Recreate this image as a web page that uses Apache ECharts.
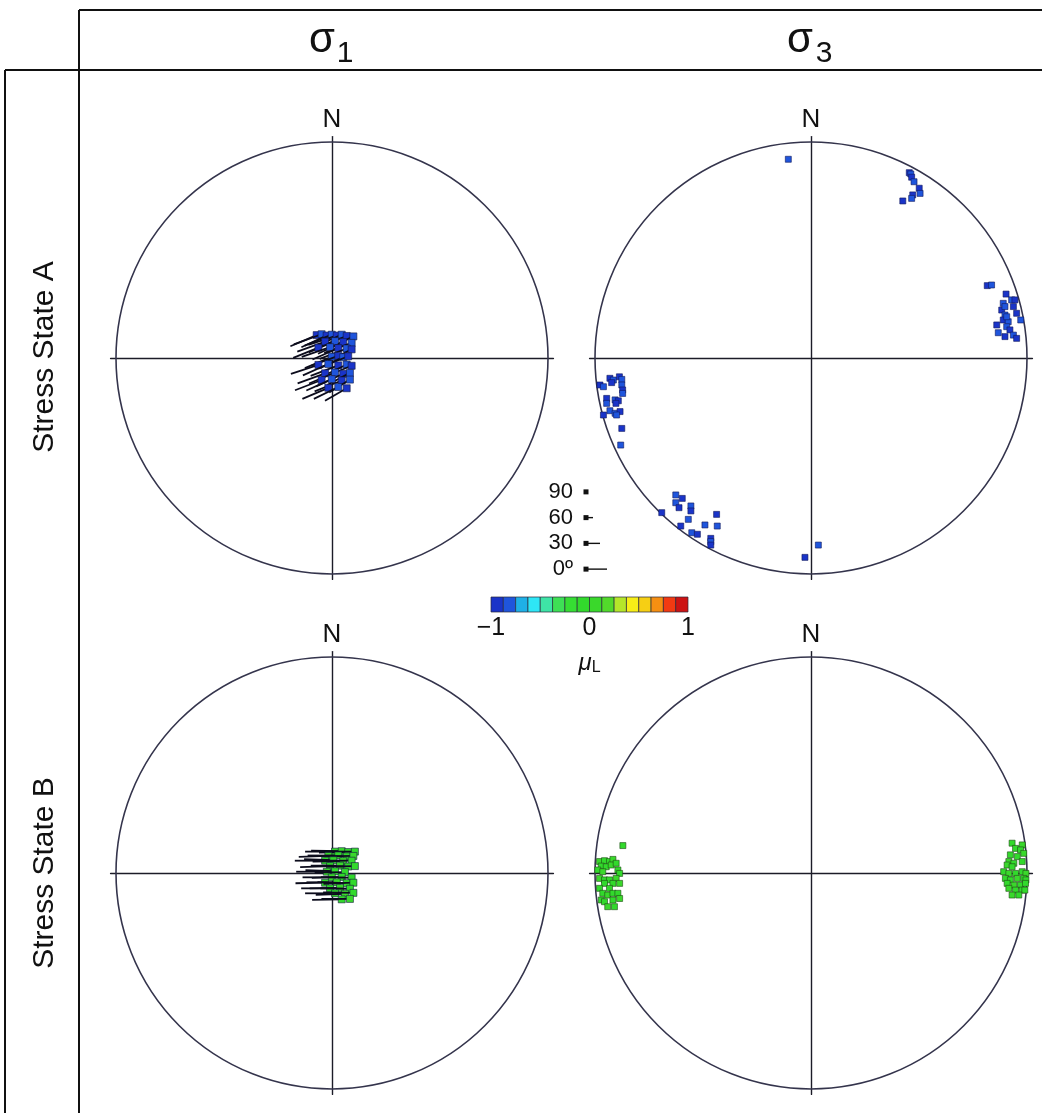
<!DOCTYPE html>
<html>
<head>
<meta charset="utf-8">
<script src="https://cdn.jsdelivr.net/npm/echarts@6/dist/echarts.min.js"></script>
<style>
  html, body { margin: 0; padding: 0; background: #fff; }
  #chart { width: 1042px; height: 1113px; }
</style>
</head>
<body>
<div id="chart"></div>
<script>
// sigma1 poles: [east, north (unit circle), trend, plunge, muL]
const sigma1A = [
  [-0.071, 0.106, 247, 8, -0.88], [-0.048, 0.110, 250, 5, -0.85], [-0.025, 0.104, 245, 10, -0.88], [-0.001, 0.108, 248, 6, -0.82],
  [0.022, 0.104, 252, 4, -0.88], [0.045, 0.108, 246, 12, -0.86], [0.068, 0.102, 249, 9, -0.88], [0.099, 0.100, 244, 15, -0.80],
  [-0.032, 0.076, 250, 5, -0.88], [0.014, 0.078, 247, 8, -0.85], [0.052, 0.074, 245, 10, -0.88], [0.091, 0.070, 250, 6, -0.82],
  [-0.063, 0.048, 248, 12, -0.88], [-0.009, 0.050, 251, 4, -0.86], [0.029, 0.046, 246, 9, -0.88], [0.068, 0.044, 249, 7, -0.80],
  [0.091, 0.040, 243, 14, -0.88], [-0.001, 0.006, 247, 6, -0.85], [0.029, 0.010, 250, 8, -0.88], [0.052, 0.004, 245, 11, -0.82],
  [0.075, 0.008, 248, 5, -0.88], [-0.063, -0.032, 252, 7, -0.88], [-0.017, -0.028, 246, 10, -0.86], [0.029, -0.034, 249, 5, -0.88],
  [0.068, -0.030, 244, 13, -0.80], [0.091, -0.036, 248, 8, -0.88], [-0.032, -0.071, 250, 6, -0.88], [0.014, -0.067, 247, 9, -0.85],
  [0.052, -0.073, 245, 4, -0.88], [0.083, -0.069, 242, 16, -0.82], [-0.048, -0.102, 249, 8, -0.88], [-0.001, -0.098, 246, 10, -0.86],
  [0.045, -0.104, 248, 6, -0.88], [0.083, -0.100, 238, 20, -0.80], [-0.017, -0.138, 247, 9, -0.88], [0.029, -0.134, 244, 12, -0.85],
  [0.068, -0.140, 240, 18, -0.88]
]
const sigma1B = [
  [0.014, 0.099, 270, 4, -0.05], [0.045, 0.101, 271, 2, 0.02], [0.075, 0.097, 269, 6, -0.08], [0.106, 0.099, 270, 3, -0.02],
  [-0.017, 0.079, 268, 5, 0.03], [0.029, 0.081, 270, 2, -0.06], [0.068, 0.077, 271, 7, -0.03], [0.099, 0.079, 269, 4, 0.01],
  [-0.032, 0.057, 270, 3, -0.07], [0.006, 0.059, 272, 6, -0.02], [0.052, 0.055, 269, 2, 0.04], [0.091, 0.057, 270, 5, -0.05],
  [-0.009, 0.032, 268, 4, -0.03], [0.037, 0.034, 270, 6, 0.02], [0.075, 0.030, 271, 3, -0.08], [0.106, 0.032, 269, 8, -0.04],
  [-0.024, 0.006, 270, 2, 0.01], [0.014, 0.008, 272, 5, -0.06], [0.060, 0.004, 269, 3, -0.02],
  [-0.001, -0.020, 270, 6, 0.03], [0.045, -0.018, 268, 4, -0.05], [0.091, -0.022, 271, 2, -0.01],
  [-0.032, -0.045, 269, 5, -0.07], [0.022, -0.043, 270, 3, 0.02], [0.068, -0.047, 272, 6, -0.03], [0.099, -0.045, 268, 4, -0.06],
  [-0.009, -0.071, 270, 7, -0.02], [0.037, -0.069, 269, 3, 0.04], [0.083, -0.073, 271, 5, -0.05],
  [0.014, -0.094, 270, 4, -0.03], [0.060, -0.096, 268, 6, 0.01], [0.099, -0.092, 271, 3, -0.07],
  [0.045, -0.122, 269, 5, -0.04], [0.083, -0.120, 270, 8, 0.02]
]
// sigma3 poles: [east, north, muL]
const sigma3A = [
  [-0.105, 0.920, -0.86],
  [0.455, 0.858, -0.88], [0.462, 0.852, -0.86], [0.466, 0.837, -0.88], [0.477, 0.816, -0.84], [0.501, 0.786, -0.88],
  [0.505, 0.762, -0.86], [0.471, 0.755, -0.88], [0.466, 0.739, -0.85], [0.425, 0.727, -0.88],
  [0.816, 0.335, -0.88], [0.836, 0.338, -0.86], [0.903, 0.296, -0.88], [0.929, 0.269, -0.85], [0.944, 0.269, -0.88],
  [0.890, 0.253, -0.86], [0.883, 0.222, -0.88], [0.898, 0.199, -0.84], [0.952, 0.207, -0.88], [0.971, 0.176, -0.86],
  [0.890, 0.176, -0.88], [0.913, 0.168, -0.85], [0.860, 0.153, -0.88], [0.906, 0.145, -0.86], [0.921, 0.130, -0.88],
  [0.867, 0.117, -0.84], [0.898, 0.099, -0.88], [0.937, 0.106, -0.86], [0.952, 0.091, -0.88], [0.906, 0.191, -0.85],
  [0.937, 0.238, -0.88], [0.898, 0.238, -0.86],
  [-0.977, -0.125, -0.88], [-0.961, -0.133, -0.86], [-0.931, -0.094, -0.88], [-0.915, -0.102, -0.85], [-0.887, -0.087, -0.88],
  [-0.876, -0.099, -0.86], [-0.923, -0.114, -0.88], [-0.876, -0.125, -0.84], [-0.872, -0.148, -0.88], [-0.872, -0.164, -0.86],
  [-0.946, -0.187, -0.88], [-0.907, -0.194, -0.85], [-0.892, -0.198, -0.88], [-0.946, -0.210, -0.86], [-0.903, -0.210, -0.88],
  [-0.931, -0.244, -0.84], [-0.961, -0.264, -0.88], [-0.907, -0.256, -0.86], [-0.884, -0.248, -0.88], [-0.900, -0.264, -0.85],
  [-0.876, -0.326, -0.88], [-0.881, -0.403, -0.86],
  [-0.691, -0.716, -0.88], [-0.626, -0.634, -0.86], [-0.596, -0.650, -0.88], [-0.626, -0.670, -0.85], [-0.611, -0.693, -0.88],
  [-0.556, -0.685, -0.86], [-0.556, -0.708, -0.88], [-0.568, -0.747, -0.84], [-0.603, -0.778, -0.88], [-0.552, -0.809, -0.86],
  [-0.526, -0.816, -0.88], [-0.491, -0.773, -0.85], [-0.437, -0.724, -0.88], [-0.434, -0.778, -0.86], [-0.464, -0.835, -0.88],
  [-0.464, -0.850, -0.86], [-0.464, -0.866, -0.88],
  [-0.028, -0.923, -0.88], [0.034, -0.866, -0.86]
]
const sigma3B = [
  [-0.871, 0.127, -0.05], [-0.979, 0.053, 0.02], [-0.956, 0.057, -0.06], [-0.933, 0.053, -0.02], [-0.917, 0.063, 0.03],
  [-0.971, 0.032, -0.07], [-0.948, 0.029, -0.03], [-0.925, 0.037, 0.01], [-0.902, 0.045, -0.05], [-0.987, 0.014, -0.02],
  [-0.964, 0.006, 0.04], [-0.894, 0.014, -0.06], [-0.886, -0.002, -0.03], [-0.979, -0.025, 0.02], [-0.956, -0.032, -0.08],
  [-0.933, -0.032, -0.04], [-0.902, -0.025, 0.01], [-0.956, -0.048, -0.02], [-0.917, -0.048, -0.06], [-0.886, -0.048, 0.03],
  [-0.979, -0.071, -0.05], [-0.933, -0.071, -0.01], [-0.964, -0.094, -0.07], [-0.941, -0.102, 0.02], [-0.917, -0.094, -0.03],
  [-0.894, -0.094, -0.05], [-0.886, -0.118, 0.01], [-0.971, -0.125, -0.04], [-0.956, -0.133, -0.02], [-0.917, -0.125, -0.06],
  [-0.941, -0.156, 0.02], [-0.910, -0.156, -0.03],
  [0.931, 0.138, -0.05], [0.978, 0.130, 0.02], [0.947, 0.114, -0.06], [0.970, 0.107, -0.02], [0.985, 0.091, 0.03],
  [0.923, 0.084, -0.07], [0.955, 0.076, -0.03], [0.916, 0.053, 0.01], [0.939, 0.045, -0.05], [0.978, 0.053, -0.02],
  [0.908, 0.037, 0.04], [0.931, 0.029, -0.06], [0.892, 0.006, -0.03], [0.916, -0.002, 0.02], [0.947, -0.002, -0.08],
  [0.978, 0.006, -0.04], [0.995, -0.002, 0.01], [0.900, -0.025, -0.02], [0.923, -0.032, -0.06], [0.955, -0.025, 0.03],
  [0.985, -0.025, -0.05], [0.995, -0.032, -0.01], [0.908, -0.048, -0.07], [0.939, -0.056, 0.02], [0.970, -0.056, -0.03],
  [0.993, -0.048, -0.05], [0.916, -0.071, 0.01], [0.947, -0.079, -0.04], [0.978, -0.079, -0.02], [0.990, -0.079, -0.06],
  [0.931, -0.102, 0.02], [0.962, -0.102, -0.03]
]
// plunge key and muL colour scale
const keyLabels = ['90', '60', '30', '0º']
const keyPlunges = [90, 60, 30, 0]
const muColors = ['#1a34c8', '#1f55dc', '#1fb0e6', '#2ee6f6', '#3ee4a6', '#3ee055', '#36de33', '#32d92c',
  '#3ad82b', '#52d92b', '#b5e62a', '#f7ee17', '#f6cf14', '#f58f12', '#f23a12', '#cc1313']
const muTicks = [-1, 0, 1]

const FONT = '"Liberation Sans", Arial, Helvetica, sans-serif'
const R = 216
const EXT = 1.025
const TAIL = 0.145 // tail length at 0 plunge, in circle radii

function colorOf(mu) {
  const i = Math.max(0, Math.min(muColors.length - 1, Math.floor((mu + 1) / 2 * muColors.length)))
  return muColors[i]
}

const chart = echarts.init(document.getElementById('chart'))

const plots = [
  { cx: 332, cy: 358 },
  { cx: 811, cy: 358 },
  { cx: 332, cy: 873 },
  { cx: 811, cy: 873 }
]
const half = R * EXT

const grids = plots.map(p => ({
  left: p.cx - half, top: p.cy - half, width: half * 2, height: half * 2
}))
grids.push({ left: 584, top: 479, width: 40, height: 103 }) // plunge key
grids.push({ left: 491, top: 597, width: 197, height: 15 }) // colour bar

const lineStyle = { color: '#1c1c28', width: 1.4 }
const xAxes = plots.map((p, i) => ({
  gridIndex: i, type: 'value', min: -EXT, max: EXT,
  axisLine: { onZero: true, lineStyle },
  axisTick: { show: false }, axisLabel: { show: false }, splitLine: { show: false }
}))
const yAxes = plots.map((p, i) => ({
  gridIndex: i, type: 'value', min: -EXT, max: EXT,
  name: 'N', nameLocation: 'end', nameGap: 4,
  nameTextStyle: { fontFamily: FONT, fontSize: 26, color: '#111', verticalAlign: 'bottom' },
  axisLine: { onZero: true, lineStyle },
  axisTick: { show: false }, axisLabel: { show: false }, splitLine: { show: false }
}))
xAxes.push({ gridIndex: 4, type: 'value', min: 0, max: 1, show: false })
yAxes.push({
  gridIndex: 4, type: 'category', data: keyLabels, inverse: true,
  axisLine: { show: false }, axisTick: { show: false }, splitLine: { show: false },
  axisLabel: { interval: 0, fontFamily: FONT, fontSize: 22, color: '#111', margin: 11 }
})
xAxes.push({
  gridIndex: 5, type: 'value', min: muTicks[0], max: muTicks[muTicks.length - 1], interval: 1,
  axisLine: { show: false }, axisTick: { show: false }, splitLine: { show: false },
  axisLabel: {
    fontFamily: FONT, fontSize: 25, color: '#111', margin: 4,
    formatter: v => (v < 0 ? '\u2212' + Math.abs(v) : String(v))
  },
  name: '{m|μ}{s|L}', nameLocation: 'middle', nameGap: 38,
  nameTextStyle: {
    rich: {
      m: { fontFamily: FONT, fontSize: 24, fontStyle: 'italic', color: '#111' },
      s: { fontFamily: FONT, fontSize: 16, color: '#111', padding: [10, 0, 0, 0] }
    }
  }
})
yAxes.push({ gridIndex: 5, type: 'value', min: 0, max: 1, show: false })

function circleSeries(i) {
  return {
    type: 'custom', xAxisIndex: i, yAxisIndex: i, silent: true,
    data: [[0, 0]],
    renderItem: (params, api) => {
      const c = api.coord([0, 0])
      const r = api.size([1, 0])[0]
      return {
        type: 'circle', shape: { cx: c[0], cy: c[1], r },
        style: { fill: 'none', stroke: '#34344c', lineWidth: 1.6 }
      }
    }
  }
}

function poleArrows(i, data) {
  return {
    type: 'custom', xAxisIndex: i, yAxisIndex: i, silent: true,
    data,
    renderItem: (params, api) => {
      const p = api.coord([api.value(0), api.value(1)])
      const az = api.value(2) * Math.PI / 180
      const len = api.size([TAIL * (90 - api.value(3)) / 90, 0])[0]
      const fill = colorOf(api.value(4))
      return {
        type: 'group',
        children: [
          {
            type: 'line',
            shape: { x1: p[0], y1: p[1], x2: p[0] + len * Math.sin(az), y2: p[1] - len * Math.cos(az) },
            style: { stroke: '#0c0c1c', lineWidth: 1.8 }
          },
          {
            type: 'rect', shape: { x: p[0] - 3.5, y: p[1] - 3.5, width: 7, height: 7 },
            style: { fill, stroke: '#141a40', lineWidth: 0.6 }
          }
        ]
      }
    }
  }
}

function poleSquares(i, data, edge) {
  return {
    type: 'scatter', xAxisIndex: i, yAxisIndex: i, silent: true,
    data, symbol: 'rect', symbolSize: 6,
    itemStyle: { color: p => colorOf(p.data[2]), borderColor: edge, borderWidth: 0.6, opacity: 1 }
  }
}

const keySeries = {
  type: 'custom', xAxisIndex: 4, yAxisIndex: 4, silent: true,
  data: keyPlunges.map((pl, k) => [0.05, k, pl]),
  renderItem: (params, api) => {
    const p = api.coord([api.value(0), api.value(1)])
    const len = 21 * (90 - api.value(2)) / 90
    return {
      type: 'group',
      children: [
        { type: 'line', shape: { x1: p[0], y1: p[1], x2: p[0] + len, y2: p[1] }, style: { stroke: '#111', lineWidth: 1.4 } },
        { type: 'rect', shape: { x: p[0] - 2.5, y: p[1] - 2.5, width: 5, height: 5 }, style: { fill: '#111' } }
      ]
    }
  }
}

const barSeries = {
  type: 'custom', xAxisIndex: 5, yAxisIndex: 5, silent: true,
  data: muColors.map((c, k) => [-1 + k * 2 / muColors.length, -1 + (k + 1) * 2 / muColors.length, k]),
  renderItem: (params, api) => {
    const a = api.coord([api.value(0), 1])
    const b = api.coord([api.value(1), 0])
    return {
      type: 'rect', shape: { x: a[0], y: a[1], width: b[0] - a[0], height: b[1] - a[1] },
      style: { fill: muColors[api.value(2)], stroke: '#2a2a3a', lineWidth: 0.7 }
    }
  }
}

const txt = { fontFamily: FONT, fill: '#111' }
const option = {
  animation: false,
  backgroundColor: '#fff',
  grid: grids,
  xAxis: xAxes,
  yAxis: yAxes,
  graphic: [
    // table frame
    { type: 'line', shape: { x1: 79, y1: 10, x2: 1042, y2: 10 }, style: { stroke: '#111', lineWidth: 2 } },
    { type: 'line', shape: { x1: 5, y1: 70, x2: 1042, y2: 70 }, style: { stroke: '#111', lineWidth: 2 } },
    { type: 'line', shape: { x1: 79, y1: 10, x2: 79, y2: 1113 }, style: { stroke: '#111', lineWidth: 2 } },
    { type: 'line', shape: { x1: 5, y1: 70, x2: 5, y2: 1113 }, style: { stroke: '#111', lineWidth: 2 } },
    // column headers
    { type: 'text', x: 322, y: 40, style: Object.assign({ text: 'σ', fontSize: 42, textAlign: 'center', textVerticalAlign: 'middle' }, txt) },
    { type: 'text', x: 345, y: 54, style: Object.assign({ text: '1', fontSize: 30, textAlign: 'center', textVerticalAlign: 'middle' }, txt) },
    { type: 'text', x: 800, y: 40, style: Object.assign({ text: 'σ', fontSize: 42, textAlign: 'center', textVerticalAlign: 'middle' }, txt) },
    { type: 'text', x: 824, y: 54, style: Object.assign({ text: '3', fontSize: 30, textAlign: 'center', textVerticalAlign: 'middle' }, txt) },
    // row headers
    { type: 'text', x: 45, y: 357, rotation: Math.PI / 2, style: Object.assign({ text: 'Stress State A', fontSize: 30, textAlign: 'center', textVerticalAlign: 'middle' }, txt) },
    { type: 'text', x: 45, y: 873, rotation: Math.PI / 2, style: Object.assign({ text: 'Stress State B', fontSize: 30, textAlign: 'center', textVerticalAlign: 'middle' }, txt) }
  ],
  series: [
    circleSeries(0), circleSeries(1), circleSeries(2), circleSeries(3),
    poleArrows(0, sigma1A),
    poleSquares(1, sigma3A, '#10185a'),
    poleArrows(2, sigma1B),
    poleSquares(3, sigma3B, '#1e4a14'),
    keySeries,
    barSeries
  ]
}
chart.setOption(option)
</script>
</body>
</html>
